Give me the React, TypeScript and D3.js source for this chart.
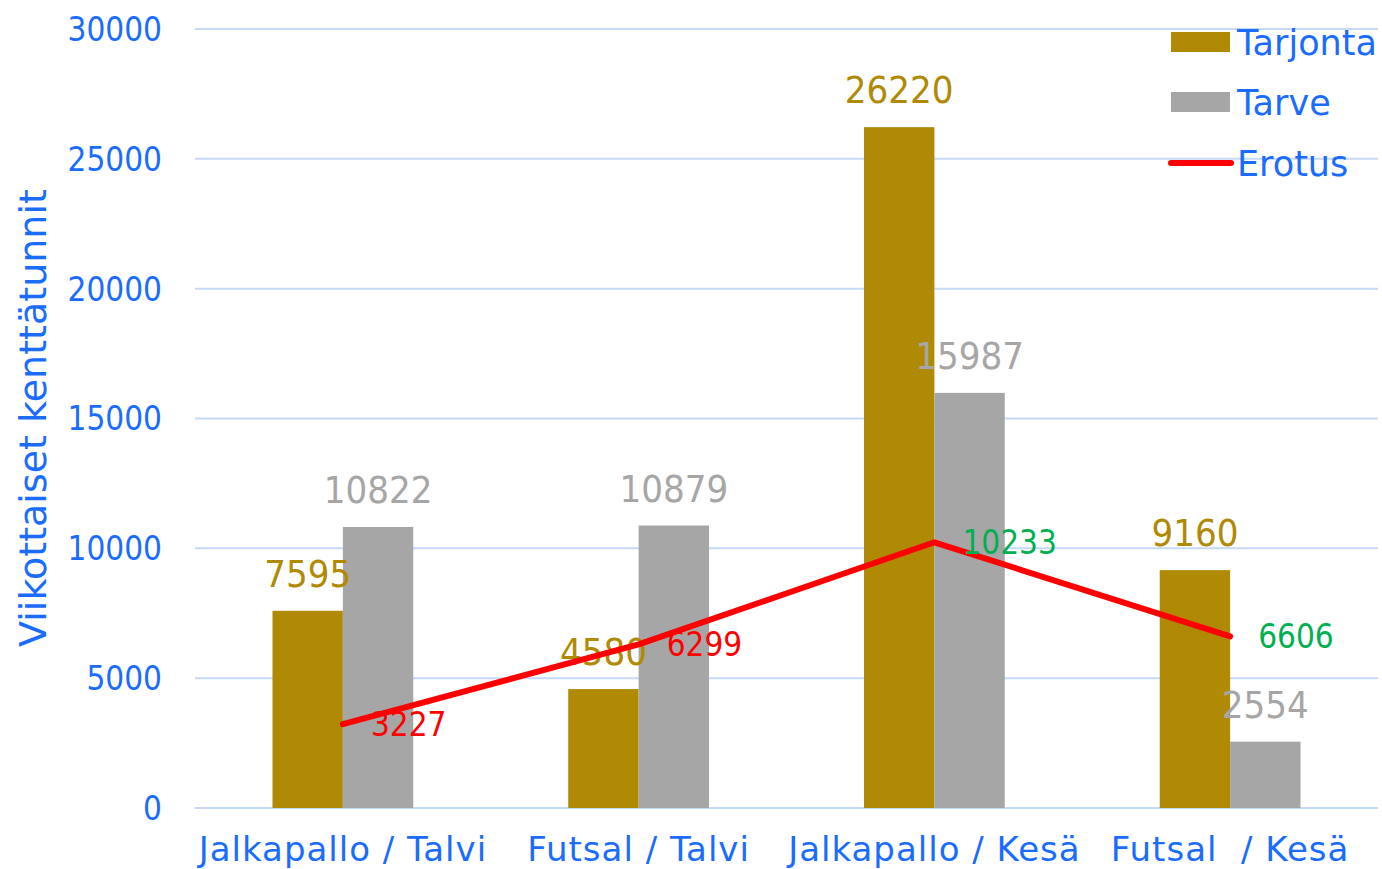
import React, { useEffect, useRef } from 'react';
import * as d3 from 'd3';

const categories = ['Jalkapallo / Talvi', 'Futsal / Talvi', 'Jalkapallo / Kesä', 'Futsal  / Kesä'];
const tarjonta = [7595, 4580, 26220, 9160];
const tarve = [10822, 10879, 15987, 2554];
const erotus = [3227, 6299, 10233, 6606];
const erotusLabelColors = ['#ff0000', '#ff0000', '#00b050', '#00b050'];
const yTicks = [0, 5000, 10000, 15000, 20000, 25000, 30000];

const BLUE = '#1a6cff';
const GOLD = '#b08a05';
const GREY = '#a6a6a6';
const WIDE = "Tahoma, 'DejaVu Sans', sans-serif";
const NARROW = "'DejaVu Sans Condensed', 'DejaVu Sans', sans-serif";

export default function App() {
  const ref = useRef<SVGSVGElement>(null);

  useEffect(() => {
    const svg = d3.select(ref.current);
    svg.selectAll('*').remove();

    const width = 1382;
    const height = 869;
    const margin = { top: 29, right: 4, bottom: 61, left: 195 };
    const plotW = width - margin.left - margin.right;
    const plotH = height - margin.top - margin.bottom;

    const g = svg.append('g').attr('transform', `translate(${margin.left},${margin.top})`);

    const x = d3.scaleBand().domain(categories).range([0, plotW]);
    const barW = x.bandwidth() * 0.238;

    const y = d3.scaleLinear().domain([0, 30000]).range([plotH, 0]);

    // gridlines
    g.selectAll('.grid')
      .data(yTicks)
      .enter().append('line')
      .attr('x1', 0)
      .attr('x2', plotW)
      .attr('y1', d => y(d))
      .attr('y2', d => y(d))
      .attr('stroke', '#c6d9f7')
      .attr('stroke-width', 2);

    // y tick labels
    g.selectAll('.ytick')
      .data(yTicks)
      .enter().append('text')
      .attr('x', -33)
      .attr('y', d => y(d))
      .attr('dy', '0.36em')
      .attr('text-anchor', 'end')
      .attr('fill', BLUE)
      .style('font-family', NARROW)
      .style('font-size', '33px')
      .text(d => d);

    // y title
    svg.append('text')
      .attr('transform', `translate(46,418) rotate(-90)`)
      .attr('text-anchor', 'middle')
      .attr('fill', BLUE)
      .style('font-family', WIDE)
      .style('font-size', '38px')
      .text('Viikottaiset kenttätunnit');

    // x labels
    g.selectAll('.xlabel')
      .data(categories)
      .enter().append('text')
      .attr('x', d => x(d)! + x.bandwidth() / 2)
      .attr('y', plotH + 53)
      .attr('text-anchor', 'middle')
      .attr('fill', BLUE)
      .style('font-family', WIDE)
      .style('font-size', '34px')
      .style('letter-spacing', '1px')
      .style('white-space', 'pre')
      .text(d => d);

    const cx = (i: number) => x(categories[i])! + x.bandwidth() / 2;

    // bars
    g.selectAll('.bar-tarjonta')
      .data(tarjonta)
      .enter().append('rect')
      .attr('x', (d, i) => cx(i) - barW)
      .attr('y', d => y(d))
      .attr('width', barW)
      .attr('height', d => plotH - y(d))
      .attr('fill', GOLD);

    g.selectAll('.bar-tarve')
      .data(tarve)
      .enter().append('rect')
      .attr('x', (d, i) => cx(i))
      .attr('y', d => y(d))
      .attr('width', barW)
      .attr('height', d => plotH - y(d))
      .attr('fill', GREY);

    // bar labels
    g.selectAll('.lab-tarjonta')
      .data(tarjonta)
      .enter().append('text')
      .attr('x', (d, i) => cx(i) - barW / 2)
      .attr('y', d => y(d) - 24)
      .attr('text-anchor', 'middle')
      .attr('fill', GOLD)
      .style('font-family', NARROW)
      .style('font-size', '38px')
      .text(d => d);

    g.selectAll('.lab-tarve')
      .data(tarve)
      .enter().append('text')
      .attr('x', (d, i) => cx(i) + barW / 2)
      .attr('y', d => y(d) - 24)
      .attr('text-anchor', 'middle')
      .attr('fill', GREY)
      .style('font-family', NARROW)
      .style('font-size', '38px')
      .text(d => d);

    // erotus line
    const line = d3.line<number>()
      .x((d, i) => cx(i))
      .y(d => y(d));

    g.append('path')
      .datum(erotus)
      .attr('d', line)
      .attr('fill', 'none')
      .attr('stroke', '#ff0000')
      .attr('stroke-width', 6)
      .attr('stroke-linecap', 'round')
      .attr('stroke-linejoin', 'round');

    g.selectAll('.lab-erotus')
      .data(erotus)
      .enter().append('text')
      .attr('x', (d, i) => cx(i) + 28)
      .attr('y', d => y(d))
      .attr('dy', '0.36em')
      .attr('fill', (d, i) => erotusLabelColors[i])
      .style('font-family', NARROW)
      .style('font-size', '33px')
      .text(d => d);

    // legend
    const legend = svg.append('g').attr('transform', 'translate(1171,0)');
    const items = [
      { name: 'Tarjonta', type: 'rect', color: GOLD, cy: 42 },
      { name: 'Tarve', type: 'rect', color: GREY, cy: 102 },
      { name: 'Erotus', type: 'line', color: '#ff0000', cy: 163 },
    ];
    items.forEach(it => {
      if (it.type === 'rect') {
        legend.append('rect')
          .attr('x', 0).attr('y', it.cy - 10)
          .attr('width', 59).attr('height', 20)
          .attr('fill', it.color);
      } else {
        legend.append('line')
          .attr('x1', 0).attr('x2', 60)
          .attr('y1', it.cy).attr('y2', it.cy)
          .attr('stroke', it.color)
          .attr('stroke-width', 6)
          .attr('stroke-linecap', 'round');
      }
      legend.append('text')
        .attr('x', 66)
        .attr('y', it.cy)
        .attr('dy', '0.36em')
        .attr('fill', BLUE)
        .style('font-family', WIDE)
        .style('font-size', '35px')
        .text(it.name);
    });
  }, []);

  return (
    <svg
      ref={ref}
      width={1382}
      height={869}
      style={{ position: 'absolute', left: 0, top: 0, background: '#fff' }}
    />
  );
}
